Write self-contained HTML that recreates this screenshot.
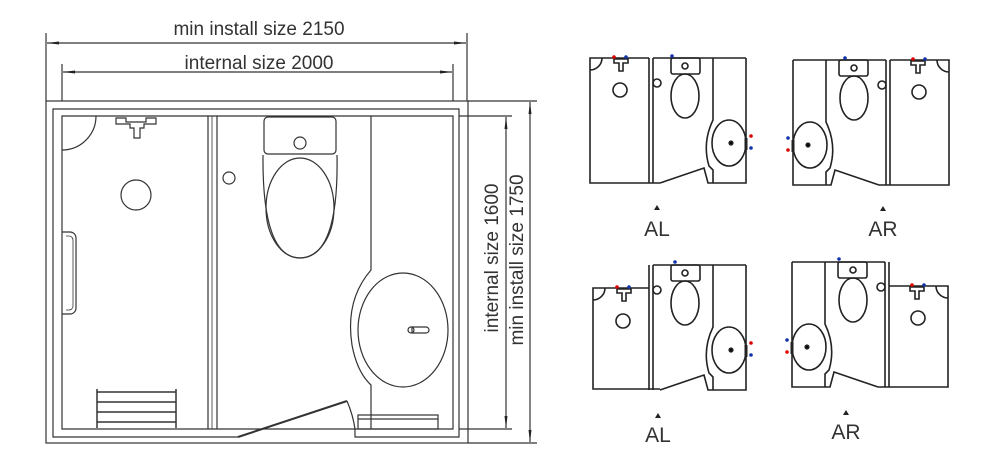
<!DOCTYPE html>
<html><head><meta charset="utf-8"><style>
html,body{margin:0;padding:0;background:#fff;width:1000px;height:470px;overflow:hidden}
svg{display:block}
text{font-family:"Liberation Sans",Arial,sans-serif;fill:#333}
</style></head><body>
<svg width="1000" height="470" viewBox="0 0 1000 470" xmlns="http://www.w3.org/2000/svg">
<defs>
<marker id="ar" markerWidth="12" markerHeight="6" refX="12" refY="3" orient="auto-start-reverse" markerUnits="userSpaceOnUse">
<path d="M0,1.5 L12,3 L0,4.5 Z" fill="#222"/></marker>
<g id="toiletpart" fill="none" stroke="#222" stroke-width="1.6">
<line x1="59" y1="0" x2="59" y2="125"/><line x1="63" y1="0" x2="63" y2="125"/>
<rect x="81" y="0" width="29" height="16" rx="2"/>
<circle cx="95" cy="8" r="3"/>
<ellipse cx="95" cy="38" rx="14" ry="22"/>
<circle cx="67" cy="25" r="4"/>
<path d="M123,0 V62 Q112,85 119,108 L123,112 V125"/>
<ellipse cx="139" cy="85" rx="17" ry="23"/>
<path d="M156,0 V125 H118 L114,110 L70,125"/>
<line x1="156" y1="80" x2="156" y2="92" stroke-width="3"/>
<circle cx="141" cy="85" r="1.8" fill="#000"/>
</g>
</defs>
<g fill="none" stroke="#333" stroke-width="1.2">
<line x1="46" y1="33" x2="46" y2="101"/><line x1="467" y1="33" x2="467" y2="101"/>
<line x1="62" y1="64" x2="62" y2="101"/><line x1="453" y1="64" x2="453" y2="101"/>
<line x1="47" y1="43" x2="466" y2="43" marker-start="url(#ar)" marker-end="url(#ar)"/>
<line x1="63" y1="72" x2="452" y2="72" marker-start="url(#ar)" marker-end="url(#ar)"/>
<line x1="468" y1="101" x2="537" y2="101"/><line x1="468" y1="443" x2="537" y2="443"/>
<line x1="459" y1="116" x2="512" y2="116"/><line x1="459" y1="429" x2="512" y2="429"/>
<line x1="506" y1="117" x2="506" y2="428" marker-start="url(#ar)" marker-end="url(#ar)"/>
<line x1="530" y1="102" x2="530" y2="442" marker-start="url(#ar)" marker-end="url(#ar)"/>
<rect x="46" y="101" width="422" height="342"/>
<path d="M238,437 H53 V109 H459 V437 H355 V429"/>
<path d="M355,429 H453 V116 H62 V429 H355"/>
<path d="M62,150 A34,34 0 0 0 96,116"/>
<path d="M116,118 h10 v4 h20 v-4 h10 v6 h-12 v4 h-4 v10 h-6 v-10 h-4 v-4 h-14 z"/>
<circle cx="136" cy="195" r="15"/>
<path d="M62,232 h8 a6,6 0 0 1 6,6 v70 a6,6 0 0 1 -6,6 h-8"/>
<path d="M66,236 h3 a4,4 0 0 1 4,4 v66 a4,4 0 0 1 -4,4 h-3" stroke-width="0.8"/>
<path d="M97,389 V428 M176,389 V428 M97,392 H176 M97,402 H176 M97,412 H176 M97,422 H176" stroke-width="1.5"/>
<line x1="208" y1="116" x2="208" y2="429"/><line x1="217" y1="116" x2="217" y2="429"/>
<line x1="212" y1="116" x2="212" y2="429" stroke-width="0.8"/>
<rect x="264" y="117" width="72" height="37" rx="4"/>
<circle cx="300" cy="143" r="6"/>
<path d="M263,155 Q262,258 300,258 Q339,258 337,155"/>
<ellipse cx="300" cy="208" rx="34" ry="50"/>
<circle cx="229" cy="178" r="6"/>
<path d="M371,116 V270 Q345,300 352,345 Q357,372 371,385 V429"/>
<ellipse cx="403" cy="330" rx="45" ry="57"/>
<path d="M412,327 h14 a3,3 0 0 1 0,6 h-14 z"/><circle cx="411" cy="330" r="3"/>
<line x1="238" y1="437" x2="347" y2="401" stroke-width="2"/>
<path d="M347,401 Q353,415 355,429"/>
<rect x="358" y="415" width="80" height="14"/>
<line x1="358" y1="419" x2="438" y2="419"/>
</g>
<text x="259" y="35" font-size="19" text-anchor="middle">min install size 2150</text>
<text x="259" y="69" font-size="19" text-anchor="middle">internal size 2000</text>
<text transform="translate(498,258) rotate(-90)" font-size="19" text-anchor="middle">internal size 1600</text>
<text transform="translate(523,260) rotate(-90)" font-size="19" text-anchor="middle">min install size 1750</text>

<g transform="translate(590,58)">
<g fill="none" stroke="#222" stroke-width="1.6">
<path d="M59,0 H0 V125 H70"/>
<path d="M0,12 A12,12 0 0 0 12,0"/>
<path d="M24,1 h14 v4 h-5 v8 h-4 v-8 h-5z"/>
<circle cx="30" cy="32" r="7"/>
<line x1="63" y1="0" x2="156" y2="0"/>
</g>
<use href="#toiletpart"/>
<circle cx="24" cy="-1" r="1.8" fill="#d00"/><circle cx="36" cy="-1" r="1.8" fill="#13a"/>
<circle cx="82" cy="-2" r="1.8" fill="#13a"/>
<circle cx="161" cy="78" r="1.8" fill="#d00"/><circle cx="161" cy="90" r="1.8" fill="#13a"/>
</g>
<g transform="translate(949,60) scale(-1,1)">
<g fill="none" stroke="#222" stroke-width="1.6">
<path d="M59,0 H0 V125 H70"/>
<path d="M0,12 A12,12 0 0 0 12,0"/>
<path d="M24,1 h14 v4 h-5 v8 h-4 v-8 h-5z"/>
<circle cx="30" cy="32" r="7"/>
<line x1="63" y1="0" x2="156" y2="0"/>
</g>
<use href="#toiletpart"/>
<circle cx="24" cy="-1" r="1.8" fill="#13a"/><circle cx="36" cy="-1" r="1.8" fill="#d00"/>
<circle cx="104" cy="-2" r="1.8" fill="#13a"/>
<circle cx="161" cy="78" r="1.8" fill="#13a"/><circle cx="161" cy="90" r="1.8" fill="#d00"/>
</g>
<g transform="translate(590,265)">
<g fill="none" stroke="#222" stroke-width="1.6">
<path d="M59,23 H3 V124 H70"/>
<path d="M3,35 A12,12 0 0 0 15,23"/>
<path d="M27,24 h14 v4 h-5 v8 h-4 v-8 h-5z"/>
<circle cx="33" cy="56" r="7"/>
<line x1="63" y1="0" x2="156" y2="0"/>
</g>
<use href="#toiletpart"/>
<circle cx="27" cy="22" r="1.8" fill="#d00"/><circle cx="39" cy="22" r="1.8" fill="#13a"/>
<circle cx="85" cy="-3" r="1.8" fill="#13a"/>
<circle cx="161" cy="78" r="1.8" fill="#d00"/><circle cx="161" cy="90" r="1.8" fill="#13a"/>
</g>
<g transform="translate(948,262) scale(-1,1)">
<g fill="none" stroke="#222" stroke-width="1.6">
<path d="M59,24 H0 V125 H70"/>
<path d="M0,36 A12,12 0 0 0 12,24"/>
<path d="M24,25 h14 v4 h-5 v8 h-4 v-8 h-5z"/>
<circle cx="30" cy="56" r="7"/>
<line x1="63" y1="0" x2="156" y2="0"/>
</g>
<use href="#toiletpart"/>
<circle cx="24" cy="23" r="1.8" fill="#13a"/><circle cx="36" cy="23" r="1.8" fill="#d00"/>
<circle cx="109" cy="-3" r="1.8" fill="#13a"/>
<circle cx="161" cy="78" r="1.8" fill="#13a"/><circle cx="161" cy="90" r="1.8" fill="#d00"/>
</g>
<g fill="#222">
<path d="M654,210 l3,-5 l3,5z"/><path d="M880,211 l3,-5 l3,5z"/>
<path d="M655,418 l3,-5 l3,5z"/><path d="M843,415 l3,-5 l3,5z"/>
</g>
<text x="657" y="236" font-size="21" text-anchor="middle">AL</text>
<text x="883" y="236" font-size="21" text-anchor="middle">AR</text>
<text x="658" y="442" font-size="21" text-anchor="middle">AL</text>
<text x="846" y="439" font-size="21" text-anchor="middle">AR</text>
</svg>
</body></html>
